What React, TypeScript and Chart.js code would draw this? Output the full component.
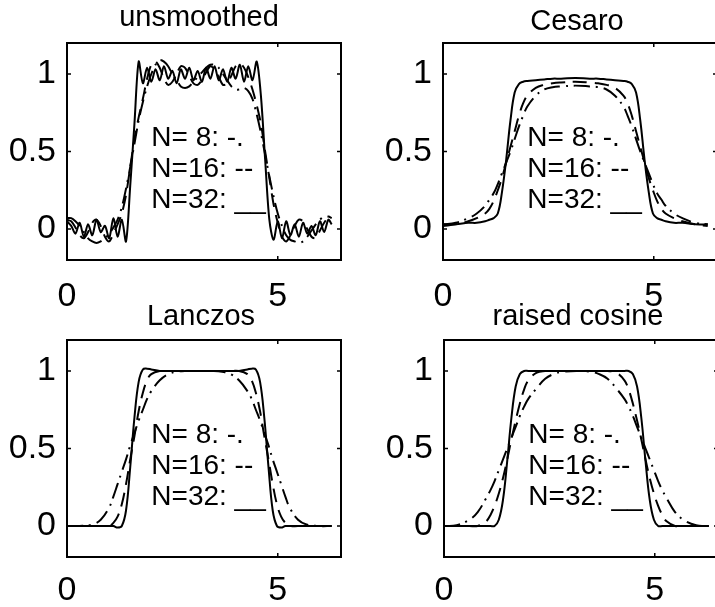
import React, { useEffect, useRef } from "react";
import { Chart, registerables } from "chart.js";

Chart.register(...registerables);

const FONT = '"Liberation Sans", Arial, Helvetica, sans-serif';

// ---------- data ----------
const X_TICKS = [0, 5];
const Y_TICKS = [0, 0.5, 1];
const LEGEND_LABELS = ["N= 8: -.", "N=16: --", "N=32: __"];
const LEGEND_X = 2.0;
const LEGEND_Y = [0.6, 0.4, 0.2];
const TITLES = ["unsmoothed", "Cesaro", "Lanczos", "raised cosine"];

const X_UNSMOOTHED = [
  0, 0.1, 0.2, 0.3, 0.4, 0.5, 0.6, 0.7, 0.8, 0.9,
  1.0, 1.1, 1.2, 1.3, 1.4, 1.5, 1.6, 1.7, 1.8, 1.9,
  2.0, 2.1, 2.2, 2.3, 2.4, 2.5, 2.6, 2.7, 2.8, 2.9,
  3.0, 3.1, 3.2, 3.3, 3.4, 3.5, 3.6, 3.7, 3.8, 3.9,
  4.0, 4.1, 4.2, 4.3, 4.4, 4.5, 4.6, 4.7, 4.8, 4.9,
  5.0, 5.1, 5.2, 5.3, 5.4, 5.5, 5.6, 5.7, 5.8, 5.9,
  6.0, 6.1, 6.2, 6.28,
];
const UNSMOOTHED_N8 = [
  0.07, 0.07, 0.05, 0.02, -0.02, -0.06, -0.08, -0.09, -0.08, -0.06,
  -0.03, 0.01, 0.06, 0.14, 0.26, 0.4, 0.55, 0.7, 0.82, 0.92,
  1.0, 1.06, 1.09, 1.08, 1.05, 1.0, 0.96, 0.92, 0.91, 0.92,
  0.95, 0.98, 1.01, 1.04, 1.06, 1.06, 1.04, 1.0, 0.96, 0.92,
  0.9, 0.9, 0.91, 0.89, 0.84, 0.74, 0.62, 0.48, 0.34, 0.21,
  0.1, 0.02, -0.04, -0.07, -0.08, -0.09, -0.08, -0.05, -0.01, 0.03,
  0.06, 0.08, 0.08, 0.07,
];
const UNSMOOTHED_N16 = [
  0.06, 0.05, 0.01, -0.04, -0.06, -0.02, 0.04, 0.06, 0.02, -0.05,
  -0.08, -0.03, 0.03, 0.1, 0.22, 0.4, 0.58, 0.72, 0.84, 0.97,
  1.06, 1.08, 1.04, 0.97, 0.93, 0.95, 1.0, 1.05, 1.04, 0.99,
  0.94, 0.93, 0.96, 1.01, 1.05, 1.03, 0.98, 0.93, 0.94, 0.99,
  1.05, 1.07, 1.04, 0.98, 0.9, 0.8, 0.68, 0.5, 0.33, 0.16,
  0.04, -0.05, -0.08, -0.04, 0.02, 0.06, 0.05, 0.0, -0.05, -0.06,
  -0.01, 0.04, 0.07, 0.05,
];
const UNSMOOTHED_N32 = [
  0.05, 0.02, -0.03, 0.04, -0.05, 0.03, -0.04, 0.06, -0.02, 0.02,
  -0.06, 0.07, -0.05, 0.06, -0.08, 0.28, 0.68, 1.08, 0.94, 1.04,
  0.95, 1.03, 0.96, 1.05, 0.97, 1.02, 0.94, 1.03, 0.97, 1.04,
  0.96, 1.02, 0.95, 1.04, 0.97, 1.05, 0.96, 1.03, 0.95, 1.04,
  0.97, 1.06, 0.95, 1.05, 0.96, 1.08, 0.86, 0.45, 0.06, -0.07,
  0.05, -0.06, 0.05, -0.04, 0.03, -0.05, 0.04, -0.03, 0.02, -0.04,
  0.05, -0.02, 0.06, 0.03,
];

const X_SMOOTH = [
  0, 0.3, 0.6, 0.8, 1.0, 1.1, 1.2, 1.3, 1.4, 1.5, 1.6, 1.7, 1.8, 1.9, 2.0, 2.2, 2.4, 2.6, 2.8,
  3.14,
  3.48, 3.68, 3.88, 4.08, 4.28, 4.38, 4.48, 4.58, 4.68, 4.78, 4.88, 4.98, 5.08, 5.18, 5.28, 5.48, 5.68, 5.98, 6.28,
];
const CESARO_N8 = [
  0.03, 0.04, 0.07, 0.1, 0.15, 0.19, 0.23, 0.29, 0.36, 0.43, 0.5, 0.58, 0.66, 0.73, 0.79, 0.86, 0.9, 0.915, 0.92,
  0.925,
  0.92, 0.915, 0.9, 0.86, 0.79, 0.73, 0.66, 0.58, 0.5, 0.43, 0.36, 0.29, 0.23, 0.19, 0.15, 0.1, 0.07, 0.04, 0.03,
];
const CESARO_N16 = [
  0.02, 0.03, 0.05, 0.07, 0.1, 0.13, 0.18, 0.25, 0.33, 0.43, 0.53, 0.63, 0.73, 0.81, 0.86, 0.91, 0.93, 0.94, 0.945,
  0.95,
  0.945, 0.94, 0.93, 0.91, 0.86, 0.81, 0.73, 0.63, 0.53, 0.43, 0.33, 0.25, 0.18, 0.13, 0.1, 0.07, 0.05, 0.03, 0.02,
];
const CESARO_N32 = [
  0.03, 0.03, 0.04, 0.04, 0.05, 0.06, 0.07, 0.1, 0.24, 0.45, 0.7, 0.88, 0.935, 0.95, 0.955, 0.96, 0.965, 0.97, 0.97,
  0.975,
  0.97, 0.97, 0.965, 0.96, 0.955, 0.95, 0.935, 0.88, 0.7, 0.45, 0.24, 0.1, 0.07, 0.06, 0.05, 0.04, 0.04, 0.03, 0.03,
];
const LANCZOS_N8 = [
  0, 0, 0.01, 0.04, 0.12, 0.19, 0.27, 0.35, 0.43, 0.52, 0.6, 0.68, 0.75, 0.82, 0.87, 0.94, 0.98, 0.995, 1.0,
  1.0,
  1.0, 0.995, 0.98, 0.94, 0.87, 0.82, 0.75, 0.68, 0.6, 0.52, 0.43, 0.35, 0.27, 0.19, 0.12, 0.04, 0.01, 0, 0,
];
const LANCZOS_N16 = [
  0, 0, 0, 0, 0, 0.02, 0.06, 0.14, 0.27, 0.43, 0.58, 0.74, 0.86, 0.94, 0.98, 1.0, 1.0, 1.0, 1.0,
  1.0,
  1.0, 1.0, 1.0, 1.0, 0.98, 0.94, 0.86, 0.74, 0.58, 0.43, 0.27, 0.14, 0.06, 0.02, 0, 0, 0, 0, 0,
];
const LANCZOS_N32 = [
  0, 0, 0, 0, 0, 0, -0.01, 0.0, 0.1, 0.38, 0.7, 0.93, 1.01, 1.015, 1.01, 1.0, 1.0, 1.0, 1.0,
  1.0,
  1.0, 1.0, 1.0, 1.0, 1.01, 1.015, 1.01, 0.93, 0.7, 0.38, 0.1, 0.0, -0.01, 0, 0, 0, 0, 0, 0,
];
const RAISED_N8 = [
  0, 0.005, 0.04, 0.09, 0.18, 0.23, 0.29, 0.36, 0.43, 0.5, 0.57, 0.64, 0.71, 0.77, 0.82, 0.89, 0.95, 0.98, 0.995,
  1.0,
  0.995, 0.98, 0.95, 0.89, 0.82, 0.77, 0.71, 0.64, 0.57, 0.5, 0.43, 0.36, 0.29, 0.23, 0.18, 0.09, 0.04, 0.005, 0,
];
const RAISED_N16 = [
  0, 0, 0, 0, 0.03, 0.07, 0.13, 0.21, 0.31, 0.43, 0.56, 0.68, 0.79, 0.88, 0.94, 0.99, 1.0, 1.0, 1.0,
  1.0,
  1.0, 1.0, 1.0, 0.99, 0.94, 0.88, 0.79, 0.68, 0.56, 0.43, 0.31, 0.21, 0.13, 0.07, 0.03, 0, 0, 0, 0,
];
const RAISED_N32 = [
  0, 0, 0, 0, 0, 0, 0, 0.04, 0.17, 0.42, 0.7, 0.9, 0.98, 1.0, 1.0, 1.0, 1.0, 1.0, 1.0,
  1.0,
  1.0, 1.0, 1.0, 1.0, 1.0, 1.0, 0.98, 0.9, 0.7, 0.42, 0.17, 0.04, 0, 0, 0, 0, 0, 0, 0,
];

// ---------- layout ----------
type Area = { left: number; right: number; top: number; bottom: number };
type PanelCfg = {
  title: string;
  xs: number[];
  n8: number[];
  n16: number[];
  n32: number[];
  x: number;
  y: number;
  w: number;
  h: number;
  area: Area;
  titleGap: number;
  titleShift: number;
  xPad: number;
  tension: number;
};

const PANELS: PanelCfg[] = [
  {
    title: TITLES[0], xs: X_UNSMOOTHED, n8: UNSMOOTHED_N8, n16: UNSMOOTHED_N16, n32: UNSMOOTHED_N32,
    x: 0, y: 0, w: 357, h: 315, area: { left: 67, right: 341, top: 43, bottom: 260 },
    titleGap: 17, titleShift: -5, xPad: 8, tension: 0.3,
  },
  {
    title: TITLES[1], xs: X_SMOOTH, n8: CESARO_N8, n16: CESARO_N16, n32: CESARO_N32,
    x: 357, y: 0, w: 380, h: 315, area: { left: 86, right: 360, top: 43, bottom: 260 },
    titleGap: 13, titleShift: -3, xPad: 8, tension: 0.4,
  },
  {
    title: TITLES[2], xs: X_SMOOTH, n8: LANCZOS_N8, n16: LANCZOS_N16, n32: LANCZOS_N32,
    x: 0, y: 290, w: 357, h: 317, area: { left: 67, right: 341, top: 50, bottom: 267 },
    titleGap: 15, titleShift: -3, xPad: 5, tension: 0.4,
  },
  {
    title: TITLES[3], xs: X_SMOOTH, n8: RAISED_N8, n16: RAISED_N16, n32: RAISED_N32,
    x: 357, y: 290, w: 380, h: 317, area: { left: 87, right: 361, top: 50, bottom: 267 },
    titleGap: 15, titleShift: -3, xPad: 5, tension: 0.4,
  },
];

function fmtY(v: number): string {
  if (v === 0.5) return "0.5";
  return String(v);
}

function Panel({ cfg }: { cfg: PanelCfg }) {
  const ref = useRef<HTMLCanvasElement>(null);

  useEffect(() => {
    const canvas = ref.current!;
    const decor = {
      id: "decor" + cfg.title.replace(/\s/g, ""),
      afterDraw(chart: any) {
        const { ctx, chartArea: a, scales } = chart;
        const xs = scales.x;
        const ys = scales.y;
        ctx.save();
        ctx.strokeStyle = "#000";
        ctx.lineWidth = 2;
        ctx.strokeRect(a.left, a.top, a.right - a.left, a.bottom - a.top);
        ctx.lineWidth = 1.5;
        const tl = 4;
        ctx.beginPath();
        X_TICKS.forEach((v) => {
          const px = xs.getPixelForValue(v);
          ctx.moveTo(px, a.bottom);
          ctx.lineTo(px, a.bottom - tl);
          ctx.moveTo(px, a.top);
          ctx.lineTo(px, a.top + tl);
        });
        Y_TICKS.forEach((v) => {
          const py = ys.getPixelForValue(v);
          ctx.moveTo(a.left, py);
          ctx.lineTo(a.left + tl, py);
          ctx.moveTo(a.right, py);
          ctx.lineTo(a.right - tl, py);
        });
        ctx.stroke();

        ctx.fillStyle = "#000";
        ctx.font = `29px ${FONT}`;
        ctx.textAlign = "center";
        ctx.textBaseline = "alphabetic";
        ctx.fillText(cfg.title, (a.left + a.right) / 2 + cfg.titleShift, a.top - cfg.titleGap);

        ctx.font = `28px ${FONT}`;
        ctx.textAlign = "left";
        LEGEND_LABELS.forEach((lab, i) => {
          const px = xs.getPixelForValue(LEGEND_X);
          const py = ys.getPixelForValue(LEGEND_Y[i]) + 10;
          ctx.fillText(lab, px, py);
        });
        ctx.restore();
      },
    };

    const mk = (ys: number[]) => cfg.xs.map((x, i) => ({ x, y: ys[i] }));
    const base = {
      borderColor: "#000",
      borderWidth: 2,
      pointRadius: 0,
      fill: false,
      tension: cfg.tension,
    };

    const chart = new Chart(canvas, {
      type: "line",
      data: {
        datasets: [
          { ...base, label: "N=8", data: mk(cfg.n8), borderDash: [16, 6, 2, 6] },
          { ...base, label: "N=16", data: mk(cfg.n16), borderDash: [14, 8] },
          { ...base, label: "N=32", data: mk(cfg.n32) },
        ],
      },
      options: {
        responsive: false,
        animation: false,
        devicePixelRatio: 1,
        layout: {
          padding: { left: 0, right: cfg.w - cfg.area.right, top: cfg.area.top, bottom: 0 },
        },
        plugins: {
          legend: { display: false },
          tooltip: { enabled: false },
          title: { display: false },
        },
        scales: {
          x: {
            type: "linear",
            min: 0,
            max: 6.5,
            afterBuildTicks: (s: any) => {
              s.ticks = X_TICKS.map((v) => ({ value: v }));
            },
            afterFit: (s: any) => {
              s.height = cfg.h - cfg.area.bottom;
            },
            grid: { display: false },
            border: { display: false },
            ticks: {
              color: "#000",
              font: { family: FONT, size: 34 },
              padding: cfg.xPad,
              maxRotation: 0,
              autoSkip: false,
              callback: (v: any) => String(v),
            },
          },
          y: {
            type: "linear",
            min: -0.2,
            max: 1.2,
            afterBuildTicks: (s: any) => {
              s.ticks = Y_TICKS.map((v) => ({ value: v }));
            },
            afterFit: (s: any) => {
              s.width = cfg.area.left;
            },
            grid: { display: false },
            border: { display: false },
            ticks: {
              color: "#000",
              font: { family: FONT, size: 34 },
              padding: 3,
              autoSkip: false,
              callback: (v: any) => fmtY(Number(v)),
            },
          },
        },
      },
      plugins: [decor],
    } as any);

    return () => chart.destroy();
  }, [cfg]);

  return (
    <canvas
      ref={ref}
      width={cfg.w}
      height={cfg.h}
      style={{ position: "absolute", left: cfg.x, top: cfg.y, width: cfg.w, height: cfg.h }}
    />
  );
}

export default function App() {
  return (
    <div
      style={{
        position: "absolute",
        left: 0,
        top: 0,
        width: 715,
        height: 607,
        overflow: "hidden",
        background: "#fff",
      }}
    >
      {PANELS.map((p) => (
        <Panel key={p.title} cfg={p} />
      ))}
    </div>
  );
}
